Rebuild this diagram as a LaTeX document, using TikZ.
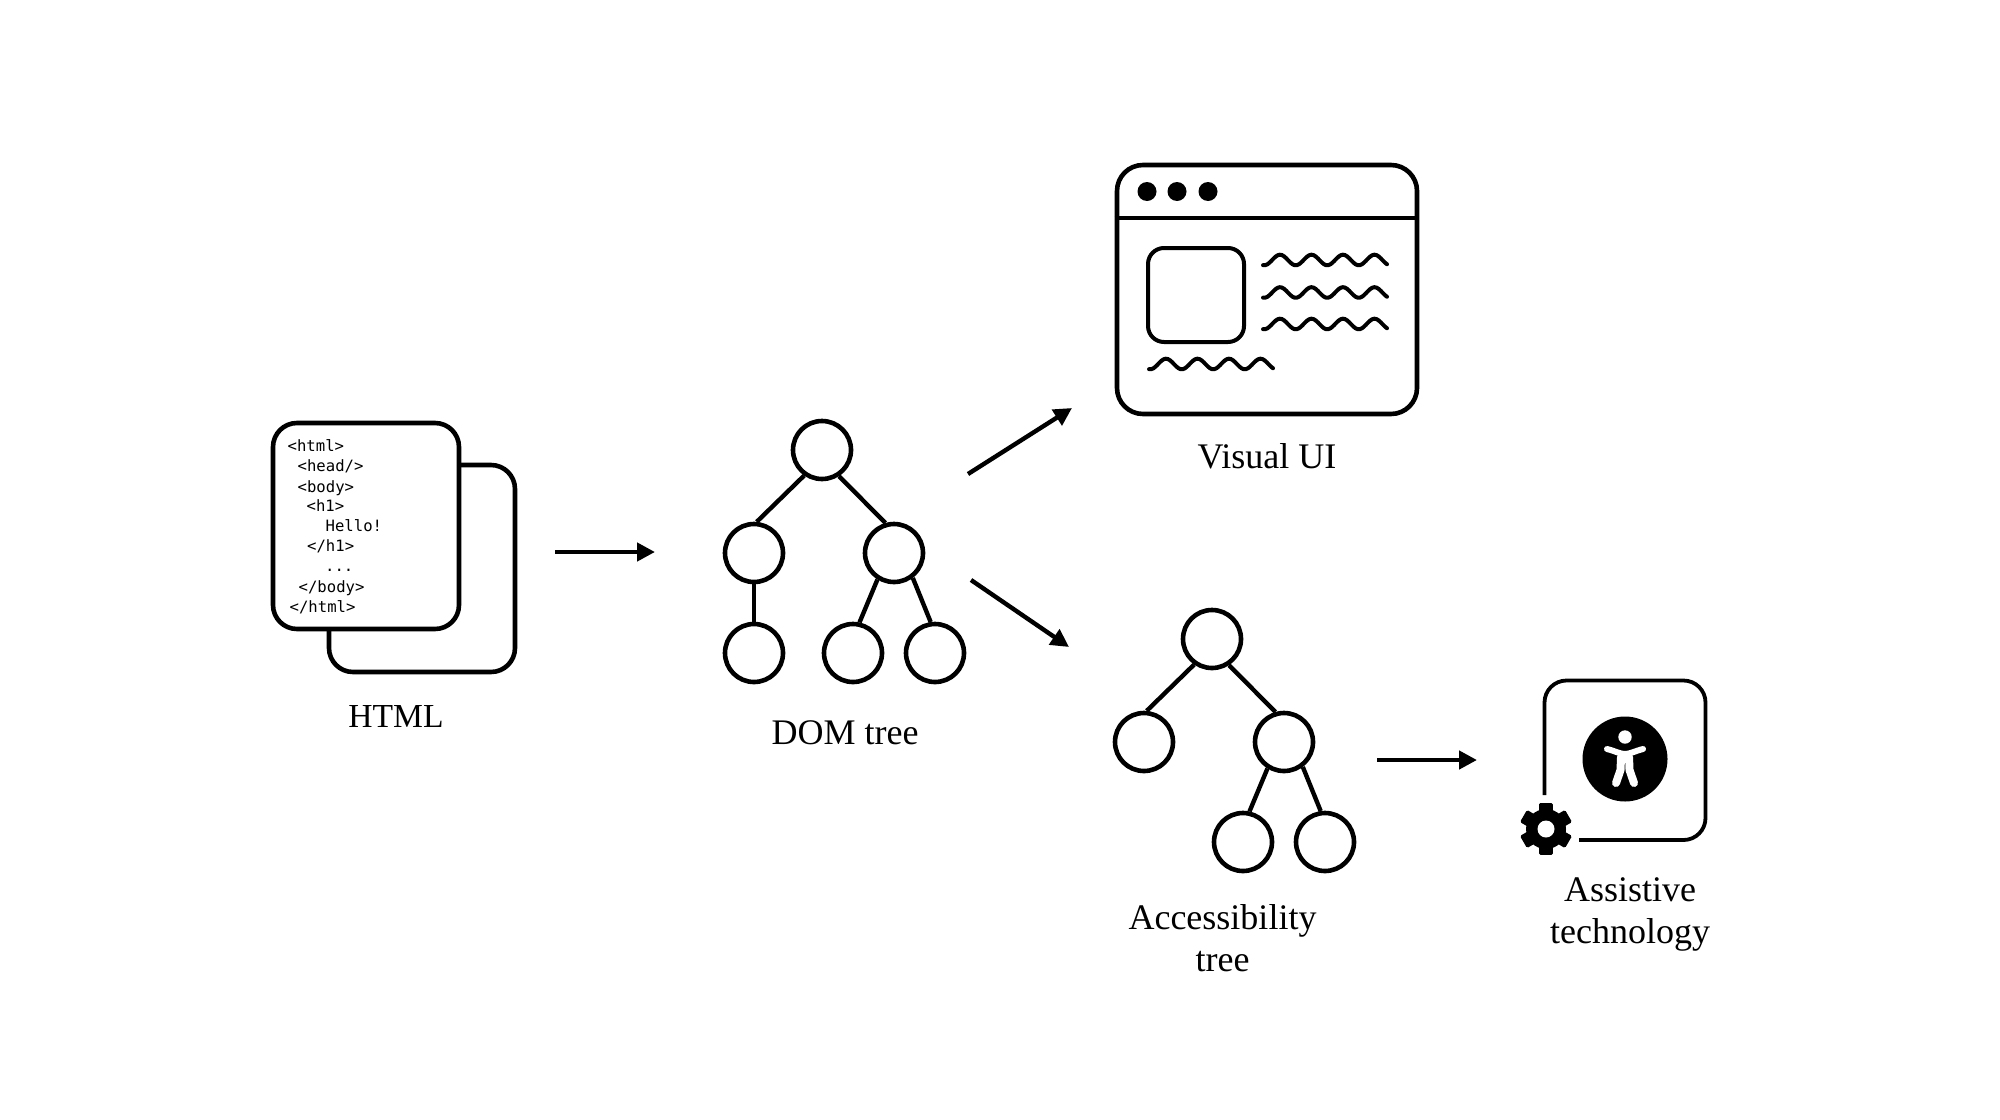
\documentclass[tikz,border=0pt]{standalone}
\usepackage{fontspec}
\setmainfont{Liberation Serif}
\newfontfamily\codefont{DejaVu Sans Mono}
\usetikzlibrary{arrows.meta}

\begin{document}
\begin{tikzpicture}[x=0.5pt, y=-0.5pt, ->, >={Triangle[length=9pt, width=9pt]}, line width=2.2pt,
tree node/.style={-, circle, draw, line width=2.3pt, minimum size=29pt, inner sep=0pt},
page box/.style={-, draw, fill=white, line width=2.3pt, rounded corners=12pt, inner sep=0pt},
code line/.style={anchor=base west, inner sep=0pt, font=\codefont\fontsize{7.8}{9}\selectfont},
label text/.style={anchor=base, inner sep=0pt, align=center, font=\fontsize{18}{20.8}\selectfont},
dot/.style={circle, fill=black, minimum size=9.5pt, inner sep=0pt},
wave line/.style={-, line width=2pt, line cap=round}]
\useasboundingbox (0,0) rectangle (2000,1119);

\node [page box, minimum width=93pt, minimum height=103.5pt] (backpage) at (422,568.5) {};
\node [page box, minimum width=93pt, minimum height=103pt] (frontpage) at (366,526) {};
\foreach \cx/\cy/\ctext [count=\i] in {285.5/451/{<html>}, 295.5/471/{<head/>}, 295.5/492/{<body>}, 304.5/511/{<h1>}, 323.5/531/{Hello!}, 305/551/{</h1>}, 323/571/{...}, 296.5/592/{</body>}, 287.5/612/{</html>}}
  \node [code line] (code\i) at (\cx,\cy) {\ctext};
\node [label text, font=\fontsize{16.8}{20.8}\selectfont] (htmllabel) at (396,727) {HTML};

\coordinate (htmlout) at (555,552);
\coordinate (domin) at (655,552);
\draw (htmlout) -- (domin);

\node [tree node] (d0) at (822,450) {};
\node [tree node] (d1) at (754,553) {};
\node [tree node] (d2) at (894,553) {};
\node [tree node] (d3) at (754,653) {};
\node [tree node] (d4) at (853,653) {};
\node [tree node] (d5) at (935,653) {};
\node [label text] (domlabel) at (845,744) {DOM tree};
\draw [-] (d0.235) -- (d1.85);
\draw [-] (d0.303) -- (d2.106);
\draw [-] (d1.south) -- (d3.north);
\draw [-] (d2.238) -- (d4.78);
\draw [-] (d2.307) -- (d5.98);

\coordinate (domup) at (968,474);
\coordinate (uiin) at (1072,408);
\coordinate (domdown) at (971,580);
\coordinate (treein) at (1069,647);
\draw (domup) -- (uiin);
\draw (domdown) -- (treein);

\node [page box, minimum width=150pt, minimum height=124.5pt, fill=none, rounded corners=13pt] (window) at (1267,289.5) {};
\draw [-] (window.west |- 0,218) -- (window.east |- 0,218);
\node [dot] (dot1) at (1147,191.5) {};
\node [dot] (dot2) at (1177,191.5) {};
\node [dot] (dot3) at (1208,191.5) {};
\node [page box, minimum width=48pt, minimum height=47pt, line width=2pt, rounded corners=8pt] (picture) at (1196,295) {};
\foreach \wx/\wy in {1263/260, 1263/292.5, 1263/324, 1149/364}
  \draw [wave line] plot [domain=0:124, samples=60, smooth, variable=\t] (\wx+\t, {\wy-5.3*cos(11.43*(\t-17))});
\node [label text] (uilabel) at (1267,468) {Visual UI};

\node [tree node] (a0) at (1212,639) {};
\node [tree node] (a1) at (1144,742) {};
\node [tree node] (a2) at (1284,742) {};
\node [tree node] (a3) at (1243,842) {};
\node [tree node] (a4) at (1325,842) {};
\node [label text] (a11ylabel) at (1222.5,971) {Accessibility\\tree};
\draw [-] (a0.235) -- (a1.85);
\draw [-] (a0.303) -- (a2.106);
\draw [-] (a2.238) -- (a3.78);
\draw [-] (a2.307) -- (a4.98);

\coordinate (treeout) at (1377,760);
\coordinate (atin) at (1477,760);
\draw (treeout) -- (atin);

\draw [-, line width=1.9pt, rounded corners=11pt] (1544.5,795) -- (1544.5,680.5) -- (1705.5,680.5) -- (1705.5,840) -- (1579,840);
\fill (1625,759) circle [radius=42.5];
\fill [white] (1625,737) circle [radius=6.7];
\draw [-, white, line width=3pt, line cap=round] (1607,749) .. controls (1615,751) and (1620,754) .. (1625,754) .. controls (1630,754) and (1635,751) .. (1643,749);
\draw [-, white, line width=4pt, line cap=round, line join=round] (1621,757) -- (1620.5,770) -- (1616,783);
\draw [-, white, line width=4pt, line cap=round, line join=round] (1629,757) -- (1629.5,770) -- (1634,783);
\begin{scope}[shift={(1546,829)}]
\fill (0,0) circle [radius=20];
\foreach \a in {30,90,150,210,270,330}
  \filldraw [-, line width=1.5pt, line join=round, rotate=\a] (12,-5.5) rectangle (24.5,5.5);
\fill [white] (0,0) circle [radius=8.5];
\end{scope}
\node [label text] (atlabel) at (1630,943) {Assistive\\technology};
\end{tikzpicture}
\end{document}
